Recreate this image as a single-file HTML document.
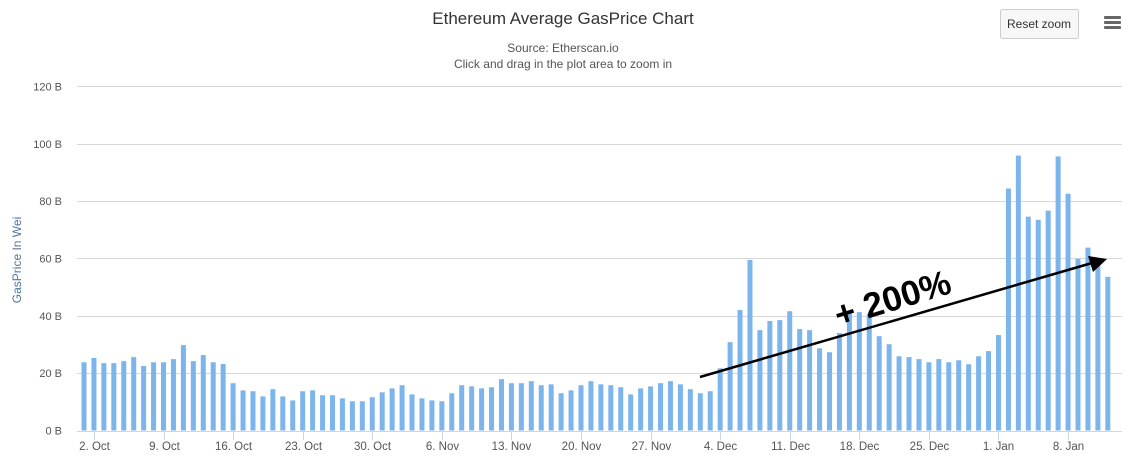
<!DOCTYPE html>
<html><head><meta charset="utf-8"><style>
body{margin:0;background:#fff;font-family:"Liberation Sans","DejaVu Sans",sans-serif;}
#wrap{position:relative;width:1137px;height:461px;overflow:hidden;}
</style></head><body>
<div id="wrap">
<svg id="chart" width="1137" height="461">
<text x="563" y="24" text-anchor="middle" font-size="17" fill="#333">Ethereum Average GasPrice Chart</text>
<text x="563" y="52" text-anchor="middle" font-size="12" fill="#555">Source: Etherscan.io</text>
<text x="563" y="68" text-anchor="middle" font-size="12" fill="#555">Click and drag in the plot area to zoom in</text>
<g>
<rect x="1000.5" y="9.5" width="78" height="29" rx="2" fill="#f7f7f7" stroke="#ccc"/>
<text x="1039" y="28" text-anchor="middle" font-size="12" fill="#333">Reset zoom</text>
</g>
<g fill="#666">
<rect x="1104" y="16" width="17" height="3" rx="1"/><rect x="1104" y="21" width="17" height="3" rx="1"/><rect x="1104" y="26" width="17" height="3" rx="1"/>
</g>
<text transform="translate(21,260) rotate(-90)" text-anchor="middle" font-size="12" fill="#4d759e">GasPrice In Wei</text>
<g id="grid"></g><g id="bars"></g><g id="xaxis"></g>
<g>
<line x1="700" y1="377" x2="1092" y2="263" stroke="#000" stroke-width="2.5"/>
<polygon points="1107,259 1088,256 1093,272" fill="#000"/>
</g>
<text transform="translate(896,310) rotate(-17)" text-anchor="middle" font-size="35" font-weight="bold" fill="#000">+ 200%</text>
</svg>
</div>
<script>
const values=[23.8,25.3,23.5,23.5,24.2,25.6,22.5,23.8,23.8,24.9,29.8,24.2,26.3,23.8,23.2,16.5,14.0,13.7,11.9,14.4,11.9,10.5,13.7,14.0,12.3,12.3,11.2,10.2,10.2,11.6,13.3,14.7,15.8,12.6,
11.2,10.5,10.2,13.0,15.8,15.4,14.7,15.1,17.9,16.5,16.5,17.2,15.8,16.1,13.0,14.0,15.8,17.2,16.1,15.8,15.1,12.6,14.7,15.4,16.5,17.2,16.1,14.4,13.0,13.7,
21.7,30.8,42.0,59.5,35.0,38.2,38.5,41.6,35.4,35.0,28.7,27.3,34.0,41.3,41.3,40.6,32.9,30.1,25.9,25.6,24.9,23.8,24.9,23.8,24.5,23.1,25.9,27.7,33.3,
84.4,95.9,74.6,73.5,76.7,95.6,82.6,59.9,63.8,58.0,53.6];
const yTicks=[0,20,40,60,80,100,120];
const xLabels=["2. Oct","9. Oct","16. Oct","23. Oct","30. Oct","6. Nov","13. Nov","20. Nov","27. Nov","4. Dec","11. Dec","18. Dec","25. Dec","1. Jan","8. Jan"];
const NS="http://www.w3.org/2000/svg";
const y0=430.5,pxPerB=2.8667,left=77,right=1122,x0=84,step=9.94;
const yS=v=>y0-v*pxPerB, xS=i=>x0+i*step;
function mk(t,a,p){const e=document.createElementNS(NS,t);for(const k in a)e.setAttribute(k,a[k]);p.appendChild(e);return e;}
const grid=document.getElementById('grid');
yTicks.forEach(t=>{
 const l=mk('line',{x1:left,x2:right,y1:Math.round(yS(t))+0.5,y2:Math.round(yS(t))+0.5,stroke:t===0?'#ccd6eb':'#d8d8d8'},grid);
 
 
 const tx=mk('text',{x:62,y:yS(t)+4,'text-anchor':'end','font-size':11,fill:'#555'},grid);
 tx.textContent=t+' B';
 
 
});
const bars=document.getElementById('bars');
values.forEach((v,i)=>{
 const r=mk('rect',{x:xS(i)-2.5,y:yS(v),width:5,height:v*pxPerB,fill:'#7cb5ec'},bars);
 
 
});
const xa=document.getElementById('xaxis');
xLabels.forEach((s,k)=>{
 const x=Math.round(xS(1+7*k))+0.5;
 const l=mk('line',{x1:x,x2:x,y1:431,y2:440,stroke:'#ccd6eb'},xa);
 
 
 const t=mk('text',{x:x,y:450,'text-anchor':'middle','font-size':11.5,fill:'#555'},xa);
 t.textContent=s;
 
 
});
</script>
</body></html>
